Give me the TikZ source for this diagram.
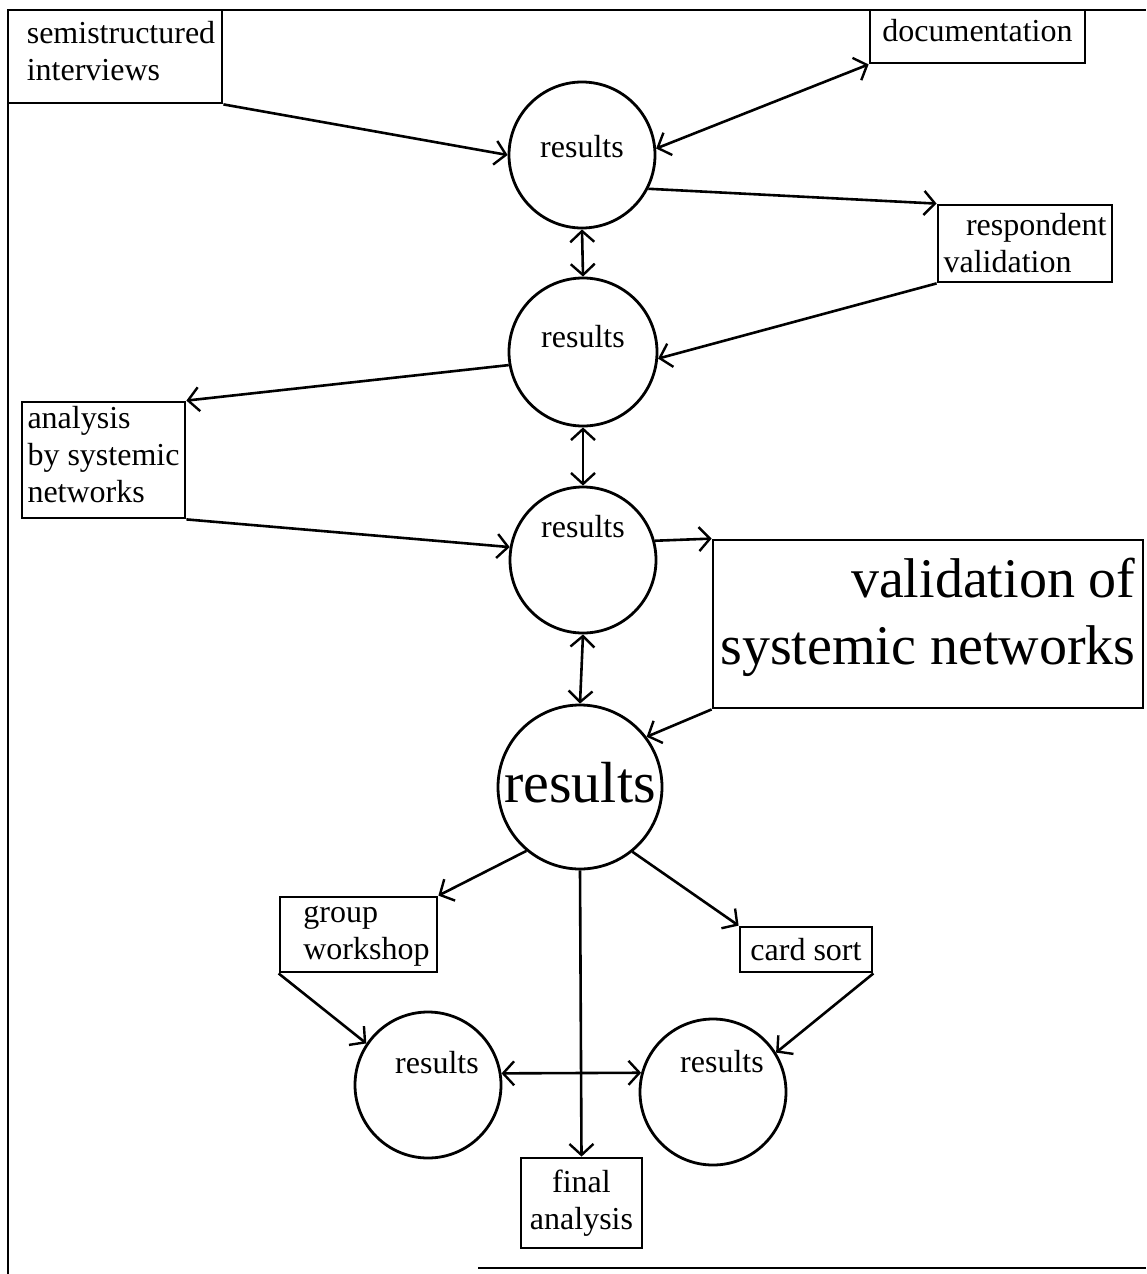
\documentclass[tikz,border=0pt]{standalone}
\usepackage{fontspec}
\setmainfont{Liberation Serif}
\usetikzlibrary{arrows.meta}
\begin{document}
\begin{tikzpicture}[x=1pt,y=-1pt,line width=2.8pt,
  >={Straight Barb[length=11pt,width=24pt,line width=2.4pt]},
  txt/.style={font=\fontsize{32}{37}\selectfont},
  big/.style={font=\fontsize{56}{67}\selectfont},
  box/.style={draw,rectangle,inner sep=0pt,txt},
  res/.style={draw,circle,inner sep=0pt,minimum size=146pt},
  lbl/.style={txt,inner sep=0pt},
  conn/.style={line width=2.6pt}]
\useasboundingbox (0,0) rectangle (1146,1274);
% page frame
\draw (8,1274) -- (8,10) -- (1146,10);
\draw (478,1268) -- (1146,1268);

% boxes (text set as centred labels, nudged where the box text sits off-centre)
\node[box,minimum width=214pt,minimum height=93pt,
  label={[lbl,align=left,xshift=6pt,yshift=5pt]center:{semistructured\\interviews}}] (ints) at (115,56.5) {};
\node[box,minimum width=215pt,minimum height=53pt,
  label={[lbl,yshift=6pt]center:documentation}] (doc) at (977.5,36.5) {};
\node[box,minimum width=174pt,minimum height=77pt,align=left] (resp) at (1025,243.5) {\hspace*{0.7em}respondent\\validation};
\node[box,minimum width=163pt,minimum height=116pt,
  label={[lbl,align=left,yshift=5pt]center:{analysis\\by systemic\\networks}}] (anal) at (103.5,460) {};
\node[box,minimum width=430pt,minimum height=168pt,
  label={[lbl,big,align=right,yshift=7pt]center:{validation of\\systemic networks}}] (val) at (928,624) {};
\node[box,minimum width=157pt,minimum height=75pt,
  label={[lbl,align=left,xshift=8pt,yshift=-2pt]center:{group\\workshop}}] (grp) at (358.5,934.5) {};
\node[box,minimum width=132pt,minimum height=45pt] (card) at (806,949.5) {card sort};
\node[box,minimum width=121pt,minimum height=90pt,align=center] (fin) at (581.5,1203) {final\\analysis};

% result circles
\node[res,label={[lbl,yshift=8pt]center:results}] (c1) at (582,155) {};
\node[res,minimum size=148pt,label={[lbl,yshift=15pt]center:results}] (c2) at (583,352) {};
\node[res,label={[lbl,yshift=33pt]center:results}] (c3) at (583,560) {};
\node[res,minimum size=164pt,label={[lbl,font=\fontsize{58}{67}\selectfont,yshift=4pt]center:results}] (c4) at (580,787) {};
\node[res,label={[lbl,xshift=9pt,yshift=22pt]center:results}] (c5) at (428,1085) {};
\node[res,label={[lbl,xshift=9pt,yshift=30pt]center:results}] (c6) at (713,1092) {};

% connectors
\draw[conn,->] (ints.south east) -- (c1.180);
\draw[conn,<->] (c1.5) -- (doc.south west);
\draw[conn,->] (c1.-27) -- (resp.north west);
\draw[conn,<->] (c1.south) -- (c2.north);
\draw[conn,->] (resp.south west) -- (c2.-5);
\draw[conn,->] (c2.190) -- (anal.north east);
\draw[conn,<->] (c2.south) -- (c3.north);
\draw[conn,->] (anal.south east) -- (c3.170);
\draw[conn,->] (c3.15) -- (val.north west);
\draw[conn,<->] (c3.south) -- (c4.north);
\draw[conn,->] (val.south west) -- (c4.37);
\draw[conn,->] (c4.230) -- (grp.north east);
\draw[conn,->] (c4.-51) -- (card.north west);
\draw[conn,->] (c4.south) -- (fin.north);
\draw[conn,->] (grp.south west) -- (c5.146);
\draw[conn,->] (card.south east) -- (c6.32);
\draw[conn,<->] (c5.9.5) -- (c6.165);
\end{tikzpicture}
\end{document}
